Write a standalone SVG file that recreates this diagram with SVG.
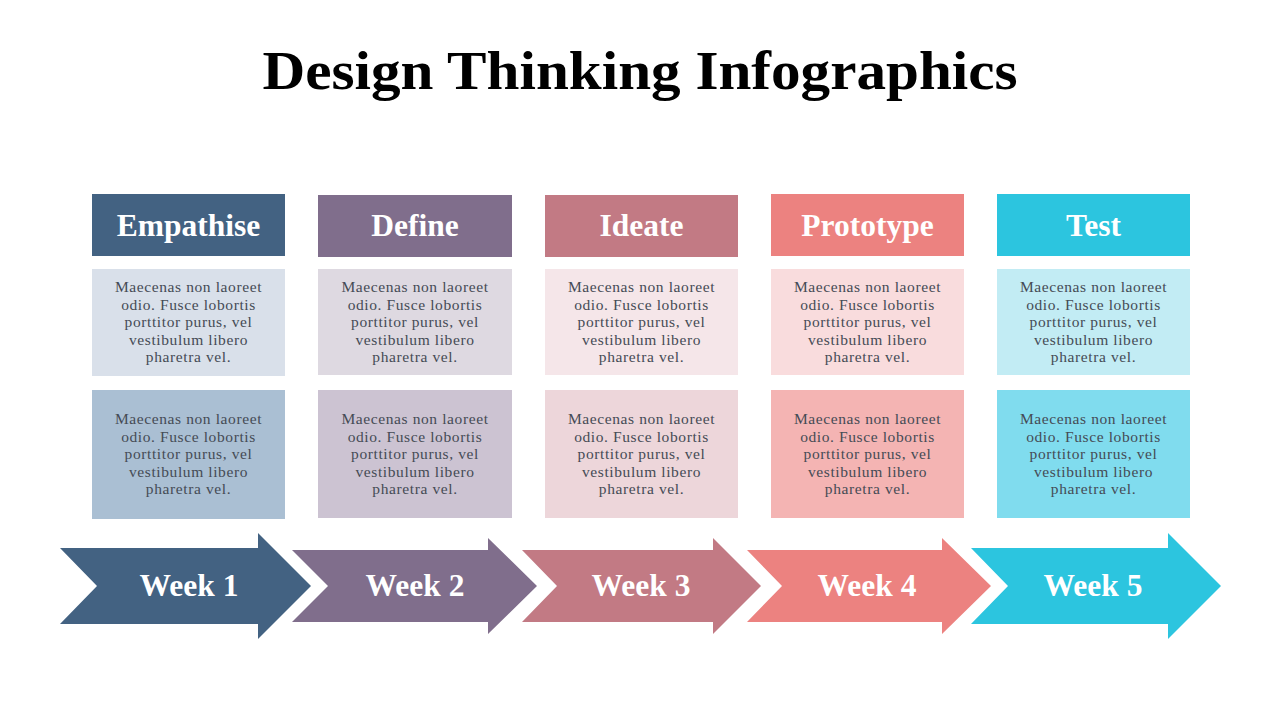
<svg xmlns="http://www.w3.org/2000/svg" width="1280" height="720" viewBox="0 0 1280 720">
<style>
.title{font-family:"Liberation Serif","DejaVu Serif",serif;font-weight:bold;font-size:54px;fill:#000;text-anchor:middle}
.hdr{font-family:"Liberation Serif","DejaVu Serif",serif;font-weight:bold;font-size:31.5px;fill:#fff;text-anchor:middle}
.wk{font-family:"Liberation Serif","DejaVu Serif",serif;font-weight:bold;font-size:31.5px;fill:#fff;text-anchor:middle}
.body{font-family:"Liberation Serif","DejaVu Serif",serif;font-size:15.5px;letter-spacing:0.6px;fill:#454b55;text-anchor:middle}
</style>
<rect width="1280" height="720" fill="#fff"/>
<text class="title" x="640" y="89" textLength="755" lengthAdjust="spacingAndGlyphs">Design Thinking Infographics</text>

<g id="empathise">
<rect x="92" y="194" width="193" height="62" fill="#436282"/>
<text class="hdr" x="188.5" y="236">Empathise</text>
<rect x="92" y="269" width="193" height="107" fill="#D9E0EA"/>
<text class="body" x="188.5" y="292">Maecenas non laoreet<tspan x="188.5" y="309.5">odio. Fusce lobortis</tspan><tspan x="188.5" y="327">porttitor purus, vel</tspan><tspan x="188.5" y="344.5">vestibulum libero</tspan><tspan x="188.5" y="362">pharetra vel.</tspan></text>
<rect x="92" y="390" width="193" height="129" fill="#AABFD3"/>
<text class="body" x="188.5" y="424">Maecenas non laoreet<tspan x="188.5" y="441.5">odio. Fusce lobortis</tspan><tspan x="188.5" y="459">porttitor purus, vel</tspan><tspan x="188.5" y="476.5">vestibulum libero</tspan><tspan x="188.5" y="494">pharetra vel.</tspan></text>
</g>

<g id="define">
<rect x="318" y="195" width="194" height="62" fill="#806E8C"/>
<text class="hdr" x="415" y="236">Define</text>
<rect x="318" y="269" width="194" height="106" fill="#DED9E1"/>
<text class="body" x="415" y="292">Maecenas non laoreet<tspan x="415" y="309.5">odio. Fusce lobortis</tspan><tspan x="415" y="327">porttitor purus, vel</tspan><tspan x="415" y="344.5">vestibulum libero</tspan><tspan x="415" y="362">pharetra vel.</tspan></text>
<rect x="318" y="390" width="194" height="128" fill="#CCC3D2"/>
<text class="body" x="415" y="424">Maecenas non laoreet<tspan x="415" y="441.5">odio. Fusce lobortis</tspan><tspan x="415" y="459">porttitor purus, vel</tspan><tspan x="415" y="476.5">vestibulum libero</tspan><tspan x="415" y="494">pharetra vel.</tspan></text>
</g>

<g id="ideate">
<rect x="545" y="195" width="193" height="62" fill="#C27A84"/>
<text class="hdr" x="641.5" y="236">Ideate</text>
<rect x="545" y="269" width="193" height="106" fill="#F5E6E9"/>
<text class="body" x="641.5" y="292">Maecenas non laoreet<tspan x="641.5" y="309.5">odio. Fusce lobortis</tspan><tspan x="641.5" y="327">porttitor purus, vel</tspan><tspan x="641.5" y="344.5">vestibulum libero</tspan><tspan x="641.5" y="362">pharetra vel.</tspan></text>
<rect x="545" y="390" width="193" height="128" fill="#EDD6DA"/>
<text class="body" x="641.5" y="424">Maecenas non laoreet<tspan x="641.5" y="441.5">odio. Fusce lobortis</tspan><tspan x="641.5" y="459">porttitor purus, vel</tspan><tspan x="641.5" y="476.5">vestibulum libero</tspan><tspan x="641.5" y="494">pharetra vel.</tspan></text>
</g>

<g id="prototype">
<rect x="771" y="194" width="193" height="62" fill="#EC8280"/>
<text class="hdr" x="867.5" y="236">Prototype</text>
<rect x="771" y="269" width="193" height="106" fill="#F9DCDD"/>
<text class="body" x="867.5" y="292">Maecenas non laoreet<tspan x="867.5" y="309.5">odio. Fusce lobortis</tspan><tspan x="867.5" y="327">porttitor purus, vel</tspan><tspan x="867.5" y="344.5">vestibulum libero</tspan><tspan x="867.5" y="362">pharetra vel.</tspan></text>
<rect x="771" y="390" width="193" height="128" fill="#F4B4B3"/>
<text class="body" x="867.5" y="424">Maecenas non laoreet<tspan x="867.5" y="441.5">odio. Fusce lobortis</tspan><tspan x="867.5" y="459">porttitor purus, vel</tspan><tspan x="867.5" y="476.5">vestibulum libero</tspan><tspan x="867.5" y="494">pharetra vel.</tspan></text>
</g>

<g id="test">
<rect x="997" y="194" width="193" height="62" fill="#2CC5DF"/>
<text class="hdr" x="1093.5" y="236">Test</text>
<rect x="997" y="269" width="193" height="106" fill="#C2ECF4"/>
<text class="body" x="1093.5" y="292">Maecenas non laoreet<tspan x="1093.5" y="309.5">odio. Fusce lobortis</tspan><tspan x="1093.5" y="327">porttitor purus, vel</tspan><tspan x="1093.5" y="344.5">vestibulum libero</tspan><tspan x="1093.5" y="362">pharetra vel.</tspan></text>
<rect x="997" y="390" width="193" height="128" fill="#80DCEE"/>
<text class="body" x="1093.5" y="424">Maecenas non laoreet<tspan x="1093.5" y="441.5">odio. Fusce lobortis</tspan><tspan x="1093.5" y="459">porttitor purus, vel</tspan><tspan x="1093.5" y="476.5">vestibulum libero</tspan><tspan x="1093.5" y="494">pharetra vel.</tspan></text>
</g>

<g id="week1">
<polygon points="60,548 258,548 258,533 311,586 258,639 258,624 60,624 97,586" fill="#436282"/>
<text class="wk" x="189" y="596">Week 1</text>
</g>
<g id="week2">
<polygon points="292,550 488,550 488,538 537,586 488,634 488,622 292,622 328,586" fill="#806E8C"/>
<text class="wk" x="415" y="596">Week 2</text>
</g>
<g id="week3">
<polygon points="522,550 713,550 713,538 761,586 713,634 713,622 522,622 557,586" fill="#C27A84"/>
<text class="wk" x="641" y="596">Week 3</text>
</g>
<g id="week4">
<polygon points="747,550 942,550 942,538 991,586 942,634 942,622 747,622 782,586" fill="#EC8280"/>
<text class="wk" x="867" y="596">Week 4</text>
</g>
<g id="week5">
<polygon points="971,548 1168,548 1168,533 1221,586 1168,639 1168,624 971,624 1008,586" fill="#2CC5DF"/>
<text class="wk" x="1093" y="596">Week 5</text>
</g>
<g id="connectors"/>
</svg>
